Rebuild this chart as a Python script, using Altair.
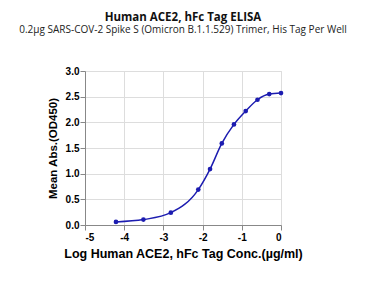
import altair as alt
import pandas as pd

log_conc = [-4.21, -3.51, -2.81, -2.11, -1.81, -1.51, -1.20, -0.90, -0.60, -0.30, 0.0]
od450 = [0.06, 0.105, 0.24, 0.69, 1.09, 1.59, 1.96, 2.22, 2.44, 2.55, 2.57]
x_ticks = [-5, -4, -3, -2, -1, 0]
y_ticks = [0, 0.5, 1, 1.5, 2, 2.5, 3]

df = pd.DataFrame({"x": log_conc, "y": od450})
color = "#1c1cb0"
FONT = "Open Sans"

xenc = alt.X("x:Q", scale=alt.Scale(domain=[-5, 0], nice=False),
             axis=alt.Axis(values=x_ticks,
                           labelExpr="datum.value < 0 ? '-' + format(-datum.value, 'd') : format(datum.value, 'd')",
                           title="Log Human ACE2, hFc Tag Conc.(\u00b5g/ml)", titlePadding=5,
                           titleFontSize=12.5, labelFontWeight="bold"))
yenc = alt.Y("y:Q", scale=alt.Scale(domain=[0, 3], nice=False),
             axis=alt.Axis(values=y_ticks, format=".1f",
                           title="Mean Abs.(OD450)", titlePadding=7, labelPadding=1,
                           titleFontSize=11.5, labelFontWeight="bold"))

line = alt.Chart(df).mark_line(color=color, strokeWidth=1.5, interpolate="monotone").encode(x=xenc, y=yenc)
pts = alt.Chart(df).mark_point(color=color, filled=True, size=22, opacity=1).encode(x=xenc, y=yenc)

chart = (line + pts).properties(
    width=196, height=154,
    title=alt.TitleParams(
        "Human ACE2, hFc Tag ELISA",
        subtitle="0.2\u00b5g SARS-COV-2 Spike S (Omicron B.1.1.529) Trimer, His Tag Per Well",
        fontSize=11.5, fontWeight="bold", font=FONT, subtitleFont=FONT,
        subtitleFontSize=10, subtitleColor="#222", color="#111",
        anchor="middle", offset=31, subtitlePadding=2,
    ),
    autosize=alt.AutoSizeParams(type="none"),
    padding={"left": 85, "top": 71, "right": 91, "bottom": 57},
).configure_view(stroke=None).configure_axis(
    grid=False, domainColor="#000", domainWidth=1.5, tickColor="#000", tickWidth=1.5,
    tickSize=4, labelFont=FONT, labelFontWeight="bold", labelFontSize=8, labelColor="#111",
    titleFont=FONT, titleFontWeight="bold", titleColor="#111",
).configure(background="white")

chart.save("out.html", embed_options={"renderer": "svg", "actions": False})
